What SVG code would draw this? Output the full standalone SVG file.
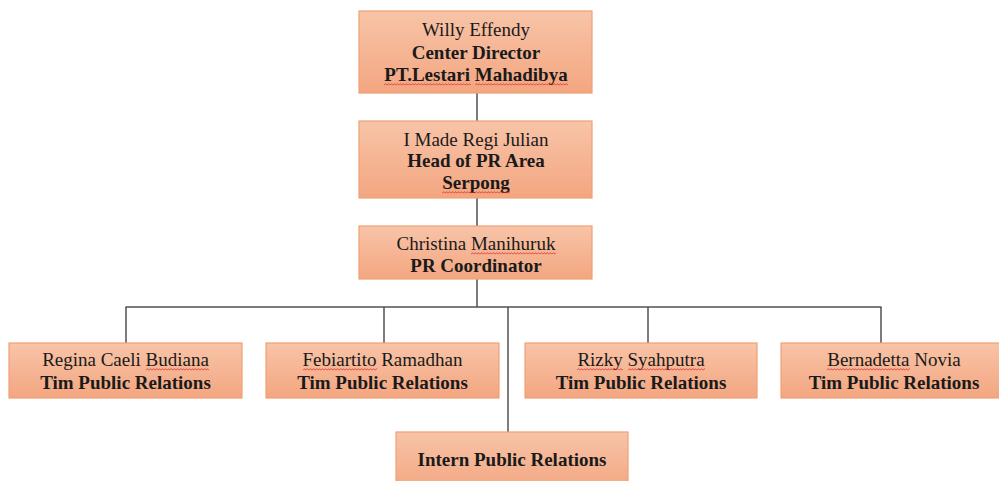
<svg xmlns="http://www.w3.org/2000/svg" width="999" height="481" viewBox="0 0 999 481">
<defs>
<linearGradient id="g" x1="0" y1="0" x2="0" y2="1">
<stop offset="0" stop-color="#F8C4A8"/>
<stop offset="1" stop-color="#F3A680"/>
</linearGradient>
<pattern id="sq" width="3" height="3" patternUnits="userSpaceOnUse">
<path d="M0,2.4 L1.5,0.6 L3,2.4" fill="none" stroke="#E23030" stroke-width="0.8"/>
</pattern>
<style>
.box{fill:url(#g);stroke:#EFA174;stroke-width:1.2}
.t{font-family:"Liberation Serif","Times New Roman",serif;font-size:19px;fill:#1a1a1a;text-anchor:middle}
.b{font-weight:bold}
.sq{fill:url(#sq)}
.c{stroke:#505050;stroke-width:1.5;fill:none}
</style>
</defs>
<rect width="999" height="481" fill="#ffffff"/>
<g id="connectors">
<line class="c" x1="477" y1="93" x2="477" y2="121"/>
<line class="c" x1="477" y1="198" x2="477" y2="226"/>
<line class="c" x1="477" y1="279" x2="477" y2="307"/>
<line class="c" x1="125.5" y1="307" x2="881.5" y2="307"/>
<line class="c" x1="126" y1="307" x2="126" y2="343"/>
<line class="c" x1="384" y1="307" x2="384" y2="343"/>
<line class="c" x1="648" y1="307" x2="648" y2="343"/>
<line class="c" x1="881" y1="307" x2="881" y2="343"/>
<line class="c" x1="508" y1="307" x2="508" y2="432"/>
</g>
<g id="director">
<rect class="box" x="359" y="11" width="233" height="82"/>
<text class="t" x="476" y="36">Willy Effendy</text>
<text class="t b" x="476" y="59">Center Director</text>
<text class="t b" x="476" y="81">PT.Lestari Mahadibya</text>
<rect class="sq" transform="translate(384,83)" width="87" height="3"/>
<rect class="sq" transform="translate(475,83)" width="93" height="3"/>
</g>
<g id="head">
<rect class="box" x="359" y="121" width="233" height="77"/>
<text class="t" x="476" y="146">I Made Regi Julian</text>
<text class="t b" x="476" y="167">Head of PR Area</text>
<text class="t b" x="476" y="189">Serpong</text>
<rect class="sq" transform="translate(442,191)" width="68" height="3"/>
</g>
<g id="coordinator">
<rect class="box" x="359" y="226" width="233" height="53"/>
<text class="t" x="476" y="250">Christina Manihuruk</text>
<text class="t b" x="476" y="272">PR Coordinator</text>
<rect class="sq" transform="translate(471,252)" width="85" height="3"/>
</g>
<g id="regina">
<rect class="box" x="9" y="343" width="233" height="55"/>
<text class="t" x="125.5" y="366">Regina Caeli Budiana</text>
<text class="t b" x="125.5" y="389">Tim Public Relations</text>
<rect class="sq" transform="translate(146,368)" width="63" height="3"/>
</g>
<g id="febiartito">
<rect class="box" x="266" y="343" width="233" height="55"/>
<text class="t" x="382.5" y="366">Febiartito Ramadhan</text>
<text class="t b" x="382.5" y="389">Tim Public Relations</text>
<rect class="sq" transform="translate(303,368)" width="74" height="3"/>
</g>
<g id="rizky">
<rect class="box" x="525" y="343" width="232" height="55"/>
<text class="t" x="641" y="366">Rizky Syahputra</text>
<text class="t b" x="641" y="389">Tim Public Relations</text>
<rect class="sq" transform="translate(577,368)" width="46" height="3"/>
<rect class="sq" transform="translate(628,368)" width="77" height="3"/>
</g>
<g id="bernadetta">
<rect class="box" x="781" y="343" width="226" height="55"/>
<text class="t" x="894" y="366">Bernadetta Novia</text>
<text class="t b" x="894" y="389">Tim Public Relations</text>
<rect class="sq" transform="translate(827,368)" width="83" height="3"/>
</g>
<g id="intern">
<rect class="box" x="396" y="432" width="232" height="60"/>
<text class="t b" x="512" y="466">Intern Public Relations</text>
</g>
</svg>
